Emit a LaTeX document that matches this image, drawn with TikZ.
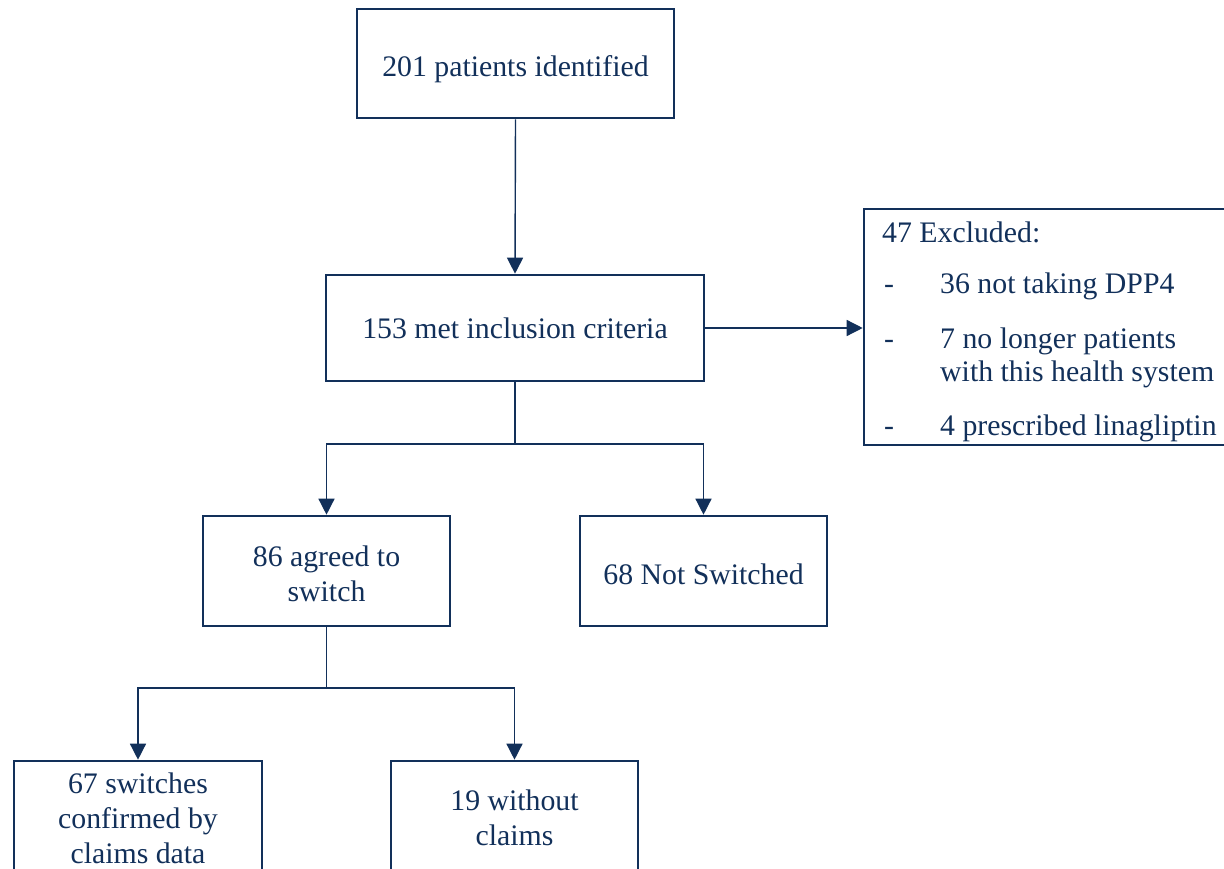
\documentclass[tikz,border=0pt]{standalone}
\usepackage{fontspec}
\setmainfont{Liberation Serif}
\usetikzlibrary{arrows.meta}
\definecolor{navy}{HTML}{12305A}
\newcommand{\lowerby}[2]{\raisebox{-#1}[\height][\depth]{#2}}
\tikzset{
  box/.style={draw=navy, line width=2.6pt, inner sep=0pt, align=center, text=navy,
    font=\fontsize{29.8}{35}\selectfont},
  conn/.style={draw=navy, line width=1.4pt, -{Triangle[width=16pt,length=16pt]}},
  plain/.style={draw=navy, line width=1.4pt},
  txt/.style={inner sep=0pt, anchor=base west, text=navy, font=\fontsize{29.8}{35}\selectfont}
}
\begin{document}
\begin{tikzpicture}[x=1pt,y=-1pt]
\useasboundingbox (0,0) rectangle (1224,869);
\clip (0,0) rectangle (1224,869);
\node[box, minimum width=317pt, minimum height=109pt] (b1) at (515.5,63.5) {\lowerby{6pt}{201 patients identified}};
\node[box, minimum width=378pt, minimum height=106pt] (b2) at (515,328) {153 met inclusion criteria};
\node[box, minimum width=380pt, minimum height=236pt] (exc) at (1054,327) {};
\node[box, minimum width=247pt, minimum height=110pt] (b3) at (326.5,571) {\lowerby{6pt}{\begin{tabular}{@{}c@{}}86 agreed to\\switch\end{tabular}}};
\node[box, minimum width=247pt, minimum height=110pt] (b4) at (703.5,571) {\lowerby{3pt}{68 Not Switched}};
\node[box, minimum width=248pt, minimum height=114pt] (b5) at (138,818) {67 switches\\confirmed by\\claims data};
\node[box, minimum width=247pt, minimum height=114pt] (b6) at (514.5,818) {19 without\\claims};

\node[txt] (e0) at (882,243) {47 Excluded:};
\node[txt] (d1) at (884,294) {-};
\node[txt] (e1) at (940,294) {36 not taking DPP4};
\node[txt] (d2) at (884,348) {-};
\node[txt] (e2) at (940,348) {7 no longer patients};
\node[txt] (e2b) at (940,381) {with this health system};
\node[txt] (d3) at (884,435) {-};
\node[txt] (e3) at (940,435) {4 prescribed linagliptin};

\draw[conn] (b1.south) -- (b2.north);
\draw[conn] (b2.east) -- (b2.east -| exc.west);
\coordinate (s1) at (515,444);
\draw[plain] (b2.south) -- (s1);
\draw[conn] (s1) -| (b3.north);
\draw[conn] (s1) -| (b4.north);
\coordinate (s2) at (326.5,688);
\draw[plain] (b3.south) -- (s2);
\draw[conn] (s2) -| (b5.north);
\draw[conn] (s2) -| (b6.north);
\end{tikzpicture}
\end{document}
